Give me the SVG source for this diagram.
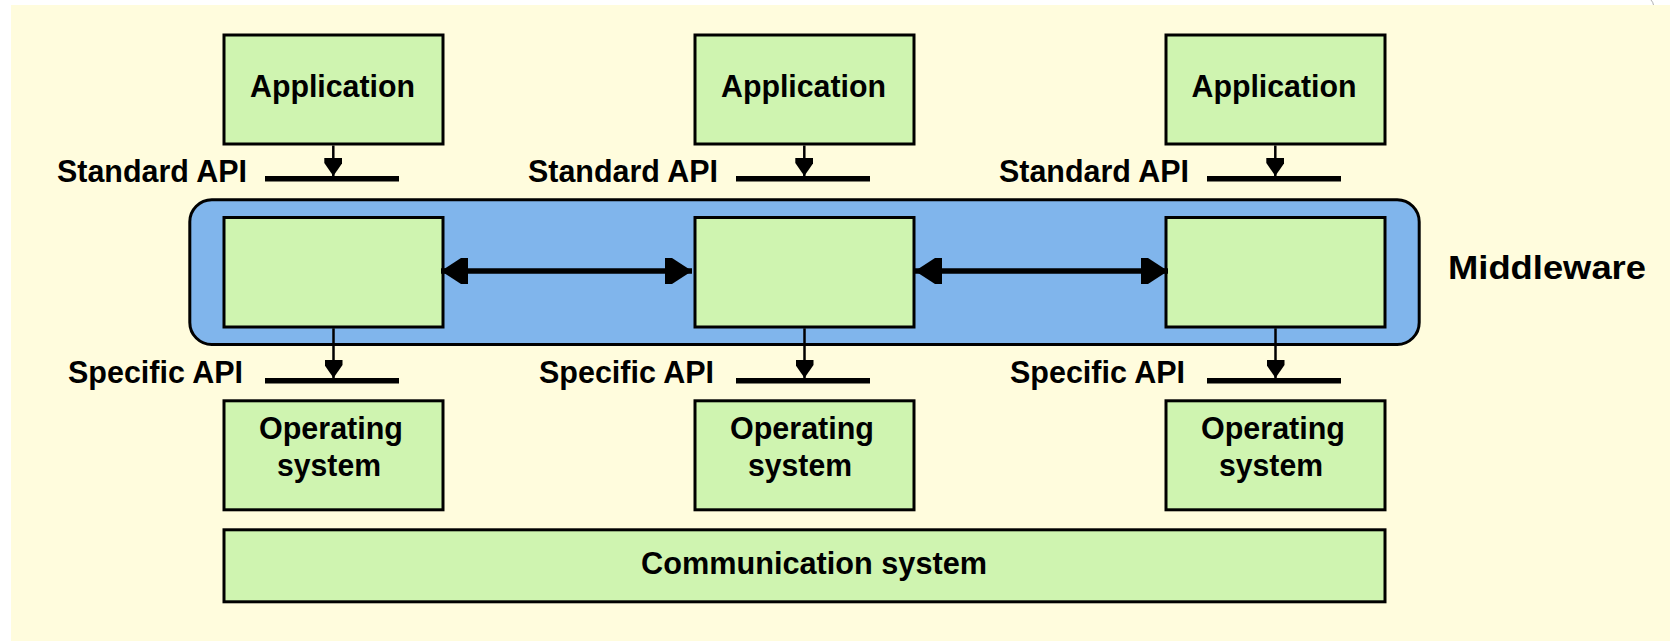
<svg xmlns="http://www.w3.org/2000/svg" width="1670" height="641" viewBox="0 0 1670 641">
  <style>
    .box { fill: #CFF4B0; stroke: #000; stroke-width: 3; }
    .mw { fill: #80B5EC; stroke: #000; stroke-width: 3; }
    .lbl { font-family: "Liberation Sans", Arial, sans-serif; font-weight: bold; font-size: 31px; fill: #000; }
    .mid { text-anchor: middle; }
    .api { stroke: #000; stroke-width: 5.5; }
    .drop { stroke: #000; stroke-width: 2.5; marker-end: url(#headDown); }
    .link { stroke: #000; stroke-width: 5.5; marker-start: url(#headBig); marker-end: url(#headBig); }
  </style>
  <defs>
    <marker id="headBig" viewBox="0 0 27 26" refX="27" refY="13" markerWidth="27" markerHeight="26" markerUnits="userSpaceOnUse" orient="auto-start-reverse">
      <path d="M27,13 L7,0 H0 V26 H7 Z" fill="#000"/>
    </marker>
    <marker id="headDown" viewBox="0 0 18 18" refX="18" refY="9" markerWidth="18" markerHeight="18" markerUnits="userSpaceOnUse" orient="auto">
      <path d="M18,9 L5,0 H0 V18 H5 Z" fill="#000"/>
    </marker>
  </defs>

  <!-- page -->
  <rect x="0" y="0" width="1670" height="641" fill="#FFFFFF"/>
  <rect x="11" y="5" width="1659" height="636" fill="#FFFCDD"/>
  <path d="M1651,0 Q1653,2 1653.5,5" fill="none" stroke="#B0B0B0" stroke-width="1"/>

  <!-- middleware layer -->
  <g id="middleware">
    <rect class="mw" x="189.8" y="199.8" width="1229.4" height="144.7" rx="22" ry="22"/>
    <text class="lbl" x="1448" y="279" font-size="34" textLength="198" lengthAdjust="spacingAndGlyphs" style="font-size:34px">Middleware</text>
  </g>

  <!-- applications -->
  <g id="app1">
    <rect class="box" x="224" y="35" width="219" height="109"/>
    <text class="lbl mid" x="332.5" y="97" textLength="165" lengthAdjust="spacingAndGlyphs">Application</text>
  </g>
  <g id="app2">
    <rect class="box" x="695" y="35" width="219" height="109"/>
    <text class="lbl mid" x="803.5" y="97" textLength="165" lengthAdjust="spacingAndGlyphs">Application</text>
  </g>
  <g id="app3">
    <rect class="box" x="1166" y="35" width="219" height="109"/>
    <text class="lbl mid" x="1274" y="97" textLength="165" lengthAdjust="spacingAndGlyphs">Application</text>
  </g>

  <!-- middleware nodes -->
  <g id="mw1"><rect class="box" x="224" y="217.5" width="219" height="109.5"/></g>
  <g id="mw2"><rect class="box" x="695" y="217.5" width="219" height="109.5"/></g>
  <g id="mw3"><rect class="box" x="1166" y="217.5" width="219" height="109.5"/></g>

  <!-- operating systems -->
  <g id="os1">
    <rect class="box" x="224" y="400.8" width="219" height="109"/>
    <text class="lbl mid" x="331" y="439" textLength="144" lengthAdjust="spacingAndGlyphs">Operating</text>
    <text class="lbl mid" x="329" y="476" textLength="104" lengthAdjust="spacingAndGlyphs">system</text>
  </g>
  <g id="os2">
    <rect class="box" x="695" y="400.8" width="219" height="109"/>
    <text class="lbl mid" x="802" y="439" textLength="144" lengthAdjust="spacingAndGlyphs">Operating</text>
    <text class="lbl mid" x="800" y="476" textLength="104" lengthAdjust="spacingAndGlyphs">system</text>
  </g>
  <g id="os3">
    <rect class="box" x="1166" y="400.8" width="219" height="109"/>
    <text class="lbl mid" x="1273" y="439" textLength="144" lengthAdjust="spacingAndGlyphs">Operating</text>
    <text class="lbl mid" x="1271" y="476" textLength="104" lengthAdjust="spacingAndGlyphs">system</text>
  </g>

  <!-- communication system -->
  <g id="comm">
    <rect class="box" x="224" y="529.8" width="1161" height="72"/>
    <text class="lbl" x="641" y="574" textLength="346" lengthAdjust="spacingAndGlyphs">Communication system</text>
  </g>

  <!-- API labels -->
  <g id="api-labels">
    <text class="lbl" x="57" y="181.5" textLength="190" lengthAdjust="spacingAndGlyphs">Standard API</text>
    <text class="lbl" x="528" y="181.5" textLength="190" lengthAdjust="spacingAndGlyphs">Standard API</text>
    <text class="lbl" x="999" y="181.5" textLength="190" lengthAdjust="spacingAndGlyphs">Standard API</text>
    <text class="lbl" x="68" y="383.3" textLength="175" lengthAdjust="spacingAndGlyphs">Specific API</text>
    <text class="lbl" x="539" y="383.3" textLength="175" lengthAdjust="spacingAndGlyphs">Specific API</text>
    <text class="lbl" x="1010" y="383.3" textLength="175" lengthAdjust="spacingAndGlyphs">Specific API</text>
  </g>

  <!-- connectors -->
  <g id="connectors">
    <!-- API bars -->
    <line class="api" x1="265" y1="178.7" x2="399" y2="178.7"/>
    <line class="api" x1="736" y1="178.7" x2="870" y2="178.7"/>
    <line class="api" x1="1207" y1="178.7" x2="1341" y2="178.7"/>
    <line class="api" x1="265" y1="380.8" x2="399" y2="380.8"/>
    <line class="api" x1="736" y1="380.8" x2="870" y2="380.8"/>
    <line class="api" x1="1207" y1="380.8" x2="1341" y2="380.8"/>
    <!-- application to standard API -->
    <line class="drop" x1="333.3" y1="145.5" x2="333.3" y2="176"/>
    <line class="drop" x1="804.3" y1="145.5" x2="804.3" y2="176"/>
    <line class="drop" x1="1275.3" y1="145.5" x2="1275.3" y2="176"/>
    <!-- middleware to specific API -->
    <line class="drop" x1="333.5" y1="328.3" x2="333.5" y2="378"/>
    <line class="drop" x1="804.5" y1="328.3" x2="804.5" y2="378"/>
    <line class="drop" x1="1275.5" y1="328.3" x2="1275.5" y2="378"/>
    <!-- peer links between middleware nodes -->
    <line class="link" x1="441" y1="271" x2="692" y2="271"/>
    <line class="link" x1="915" y1="271" x2="1168" y2="271"/>
  </g>
</svg>
